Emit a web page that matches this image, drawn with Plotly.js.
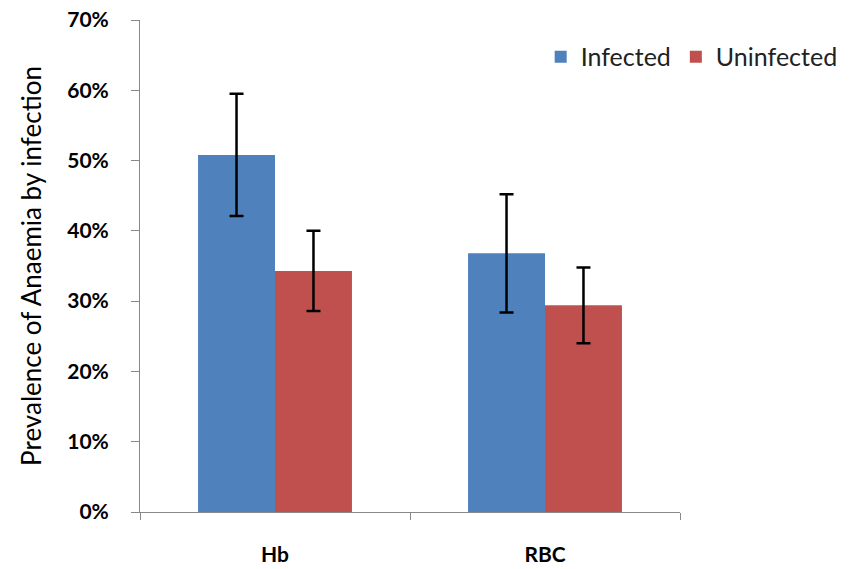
<!DOCTYPE html>
<html><head><meta charset="utf-8">
<script src="https://cdn.plot.ly/plotly-3.0.1.min.js"></script>
<style>html,body{margin:0;padding:0;background:#fff}</style>
</head><body><div id="chart" style="width:851px;height:569px"></div>
<script>
const categories = ["Hb", "RBC"];
const infected = [0.508, 0.368];
const infectedErr = [0.087, 0.084];
const uninfected = [0.343, 0.294];
const uninfectedErr = [0.057, 0.054];
const yTicks = [0, 0.1, 0.2, 0.3, 0.4, 0.5, 0.6, 0.7];

const errStyle = {type: 'data', visible: true, color: '#000', thickness: 2.5, width: 7};
const data = [
  {type: 'bar', name: 'Infected', x: categories, y: infected,
   marker: {color: '#4F81BD'},
   error_y: Object.assign({array: infectedErr}, errStyle)},
  {type: 'bar', name: 'Uninfected', x: categories, y: uninfected,
   marker: {color: '#C0504D'},
   error_y: Object.assign({array: uninfectedErr}, errStyle)}
];
const layout = {
  width: 851, height: 569,
  margin: {l: 140, r: 171, t: 20, b: 57, autoexpand: false},
  paper_bgcolor: '#fff', plot_bgcolor: '#fff',
  barmode: 'group', bargap: 0.43, bargroupgap: 0,
  font: {family: 'Lato, Open Sans, sans-serif', color: '#000'},
  xaxis: {
    type: 'category', showline: true, linecolor: '#888', linewidth: 1,
    ticks: 'outside', tickson: 'boundaries', ticklen: 7, tickcolor: '#888',
    tickfont: {size: 21, family: 'Lato, sans-serif', weight: 'bold'},
    ticklabelstandoff: 24, showgrid: false, zeroline: false
  },
  yaxis: {
    range: [0, 0.7], tickvals: yTicks, tickformat: '.0%',
    showline: true, linecolor: '#888', linewidth: 1,
    ticks: 'outside', ticklen: 8, tickcolor: '#888',
    tickfont: {size: 21, family: 'Lato, sans-serif', weight: 'bold'},
    ticklabelstandoff: 18, showgrid: false, zeroline: false,
    title: {text: 'Prevalence of Anaemia by infection', font: {size: 26}, standoff: 18}
  },
  legend: {orientation: 'h', x: 0.742, y: 0.925, xanchor: 'left', yanchor: 'middle',
    font: {size: 25, color: '#222'}, bgcolor: 'rgba(0,0,0,0)', itemwidth: 30, traceorder: 'normal'},
  showlegend: true
};
Plotly.newPlot('chart', data, layout, {displayModeBar: false});
</script></body></html>
